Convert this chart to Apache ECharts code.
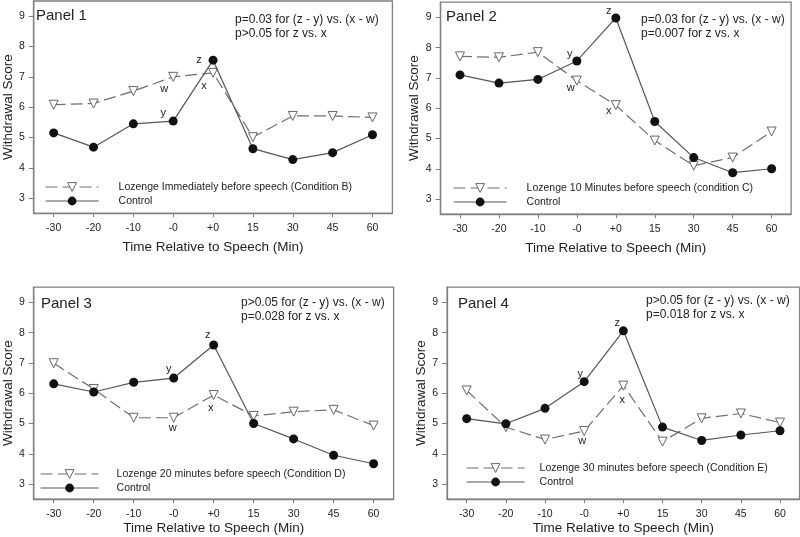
<!DOCTYPE html>
<html lang="en">
<head>
<meta charset="utf-8">
<title>Withdrawal Score panels</title>
<script src="https://cdn.jsdelivr.net/npm/echarts@6/dist/echarts.min.js"></script>
<style>
  html, body { margin: 0; padding: 0; background: #fff; }
  #main { width: 800px; height: 537px; }
</style>
</head>
<body>
<div id="main"></div>
<script type="text/javascript">
    // categories / ticks
    const timeLabels = ['-30', '-20', '-10', '-0', '+0', '15', '30', '45', '60'];
    const scoreTicks = [3, 4, 5, 6, 7, 8, 9];

    // values
    const lozenge1 = [6.08, 6.12, 6.53, 7.00, 7.13, 5.01, 5.71, 5.71, 5.66];
    const control1 = [5.15, 4.68, 5.45, 5.54, 7.55, 4.63, 4.27, 4.50, 5.09];
    const lozenge2 = [7.71, 7.68, 7.85, 6.91, 6.10, 4.93, 4.10, 4.37, 5.23];
    const control2 = [7.10, 6.83, 6.95, 7.56, 8.98, 5.56, 4.37, 3.87, 4.00];
    const lozenge3 = [6.99, 6.14, 5.19, 5.19, 5.94, 5.25, 5.39, 5.45, 4.93];
    const control3 = [6.31, 6.04, 6.36, 6.50, 7.59, 5.00, 4.49, 3.95, 3.67];
    const lozenge4 = [6.09, 4.88, 4.47, 4.75, 6.25, 4.40, 5.17, 5.33, 5.03];
    const control4 = [5.16, 4.99, 5.50, 6.38, 8.06, 4.88, 4.44, 4.62, 4.76];

    const lozengeNames = [
        'Lozenge Immediately before speech (Condition B)',
        'Lozenge 10 Minutes before speech (condition C)',
        'Lozenge 20 minutes before speech (Condition D)',
        'Lozenge 30 minutes before speech (Condition E)'
    ];
    const controlName = 'Control';
    const panelNames = ['Panel 1', 'Panel 2', 'Panel 3', 'Panel 4'];
    const pLines = [
        ['p=0.03 for (z - y) vs. (x - w)', 'p>0.05 for z vs. x'],
        ['p=0.03 for (z - y) vs. (x - w)', 'p=0.007 for z vs. x'],
        ['p>0.05 for (z - y) vs. (x - w)', 'p=0.028 for z vs. x'],
        ['p>0.05 for (z - y) vs. (x - w)', 'p=0.018 for z vs. x']
    ];
    // point letters (index 3 = -0, index 4 = +0)
    const lozengeLetters = ['', '', '', 'w', 'x', '', '', '', ''];
    const controlLetters = ['', '', '', 'y', 'z', '', '', '', ''];

    const lozengeData = [lozenge1, lozenge2, lozenge3, lozenge4];
    const controlData = [control1, control2, control3, control4];

    const SANS = "'Liberation Sans', Arial, sans-serif";
    const TXT = '#222';

    // layout of every panel
    const panels = [
        { grid: { left: 31.7, top: 1, width: 360.7, height: 212.3 }, nameGapX: 27, nameGapY: 18,
          titlePos: [36, 8], pPos: [235, 13], legend: { left: 45, top: 180, w: 53, pad: 15 },
          off: { w: [-9, 12], x: [-9, 13], y: [-10, -8], z: [-14, 0] } },
        { grid: { left: 440.5, top: 2.2, width: 350.6, height: 212 }, nameGapX: 27, nameGapY: 18,
          titlePos: [446, 9], pPos: [641, 13], legend: { left: 453, top: 181, w: 53, pad: 15 },
          off: { w: [-6, 7], x: [-7, 6], y: [-7, -7], z: [-7, -7] } },
        { grid: { left: 30.9, top: 287.2, width: 362.7, height: 212 }, nameGapX: 22, nameGapY: 16,
          titlePos: [41, 296], pPos: [241, 296], legend: { left: 40, top: 467, w: 58, pad: 13 },
          off: { w: [-1, 10], x: [-3, 13], y: [-5, -9], z: [-6, -10] } },
        { grid: { left: 447.1, top: 287.2, width: 352.5, height: 212 }, nameGapX: 22, nameGapY: 17,
          titlePos: [458, 296], pPos: [646, 294], legend: { left: 466, top: 461, w: 58, pad: 10 },
          off: { w: [-2, 10], x: [-1, 14], y: [-4, -8], z: [-6, -8] } }
    ];

    const triStyle = { color: '#fff', borderColor: '#666', borderWidth: 1 };
    const dotStyle = { color: '#111', borderColor: '#111', borderWidth: 0 };
    const dashLine = { color: '#6e6e6e', width: 1.2, type: [12, 5] };
    const solidLine = { color: '#555', width: 1.2 };

    function buildData(values, letters, off) {
        return values.map((v, i) => {
            if (!letters[i]) return v;
            return {
                value: v,
                label: {
                    show: true,
                    formatter: letters[i],
                    position: 'inside',
                    offset: off[letters[i]],
                    color: TXT,
                    fontSize: 11,
                    fontFamily: SANS
                }
            };
        });
    }

    let titles = [], legends = [], grids = [], xAxes = [], yAxes = [], series = [];

    panels.forEach((p, k) => {
        grids.push(Object.assign({
            show: true, borderColor: '#7f7f7f', borderWidth: 1.3, backgroundColor: '#fff'
        }, p.grid));

        xAxes.push({
            type: 'category',
            gridIndex: k,
            data: timeLabels,
            boundaryGap: true,
            name: 'Time Relative to Speech (Min)',
            nameLocation: 'middle',
            nameGap: p.nameGapX,
            nameTextStyle: { fontFamily: SANS, fontSize: 13.5, color: TXT },
            axisLine: { show: true, lineStyle: { color: '#7f7f7f', width: 1.3 } },
            axisTick: { show: true, alignWithLabel: true, length: 4, lineStyle: { color: '#7f7f7f' } },
            axisLabel: { fontFamily: SANS, fontSize: 10.5, color: TXT, margin: 9 },
            splitLine: { show: false }
        });

        yAxes.push({
            type: 'value',
            gridIndex: k,
            min: 2.5,
            max: 9.5,
            name: 'Withdrawal Score',
            nameLocation: 'middle',
            nameGap: p.nameGapY,
            nameRotate: 90,
            nameTextStyle: { fontFamily: SANS, fontSize: 13.5, color: TXT },
            axisLine: { show: true, lineStyle: { color: '#7f7f7f', width: 1.3 } },
            axisTick: { show: true, length: 5, customValues: scoreTicks, lineStyle: { color: '#7f7f7f' } },
            axisLabel: { fontFamily: SANS, fontSize: 10.5, color: TXT, margin: 9, customValues: scoreTicks },
            splitLine: { show: false }
        });

        titles.push({
            text: panelNames[k],
            left: p.titlePos[0], top: p.titlePos[1], padding: 0,
            textStyle: { fontFamily: SANS, fontSize: 15, fontWeight: 'normal', color: TXT, lineHeight: 16 }
        });
        titles.push({
            text: pLines[k].join('\n'),
            left: p.pPos[0], top: p.pPos[1], padding: 0,
            textStyle: { fontFamily: SANS, fontSize: 12, fontWeight: 'normal', color: TXT, lineHeight: 13.5 }
        });

        legends.push({
            orient: 'vertical',
            left: p.legend.left, top: p.legend.top,
            padding: 0,
            itemGap: 0,
            itemWidth: p.legend.w,
            itemHeight: 11,
            selectedMode: false,
            data: [
                { name: lozengeNames[k], itemStyle: triStyle, lineStyle: dashLine },
                { name: controlName, itemStyle: dotStyle, lineStyle: solidLine }
            ],
            textStyle: { fontFamily: SANS, fontSize: 10.5, color: TXT, lineHeight: 14, padding: [0, 0, 0, p.legend.pad] }
        });

        series.push({
            name: lozengeNames[k],
            type: 'line',
            xAxisIndex: k, yAxisIndex: k,
            data: buildData(lozengeData[k], lozengeLetters, p.off),
            symbol: 'triangle',
            symbolRotate: 180,
            symbolSize: 9,
            showAllSymbol: true,
            lineStyle: dashLine,
            itemStyle: triStyle,
            emphasis: { disabled: true },
            z: 2
        });
        series.push({
            name: controlName,
            type: 'line',
            xAxisIndex: k, yAxisIndex: k,
            data: buildData(controlData[k], controlLetters, p.off),
            symbol: 'circle',
            symbolSize: 9,
            showAllSymbol: true,
            lineStyle: solidLine,
            itemStyle: dotStyle,
            emphasis: { disabled: true },
            z: 3
        });
    });

    let chart = echarts.init(document.getElementById('main'));
    let option = {
        animation: false,
        backgroundColor: '#fff',
        title: titles,
        legend: legends,
        grid: grids,
        xAxis: xAxes,
        yAxis: yAxes,
        series: series
    };
    chart.setOption(option);
</script>
</body>
</html>
